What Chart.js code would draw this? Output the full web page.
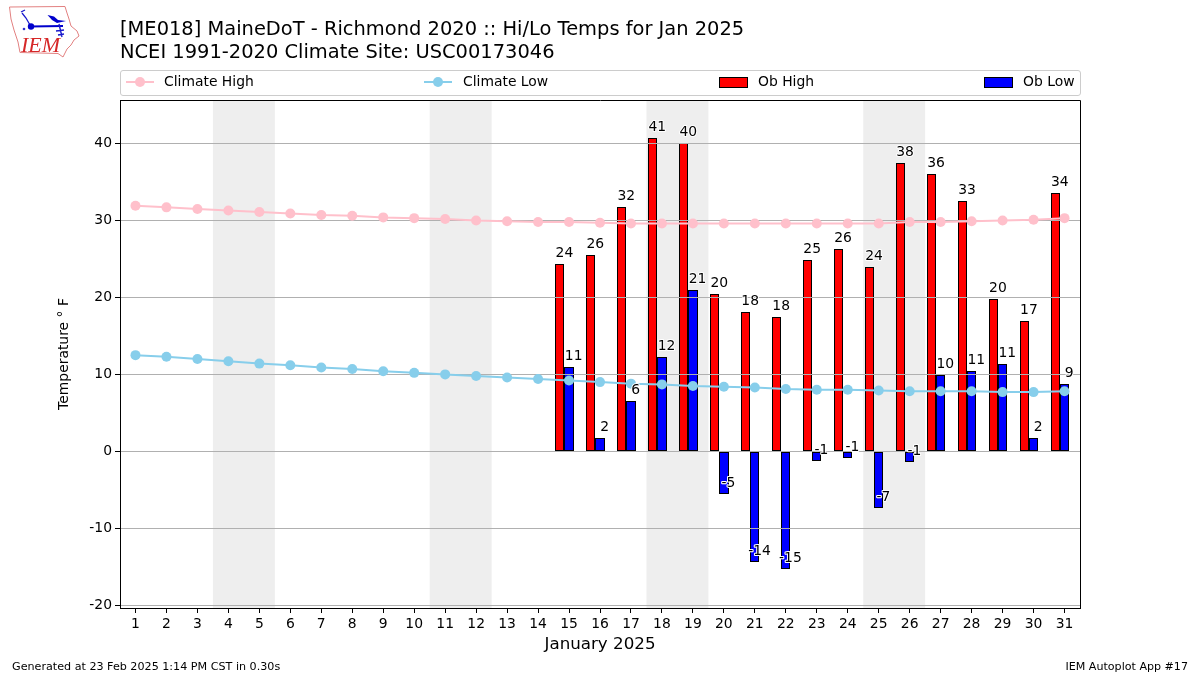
<!DOCTYPE html>
<html>
<head>
<meta charset="utf-8">
<title>Hi/Lo Temps</title>
<script src="https://cdn.jsdelivr.net/npm/chart.js@4"></script>
<style>
html, body { margin: 0; padding: 0; background: #fff; }
body { width: 1200px; height: 675px; position: relative; overflow: hidden; font-family: "DejaVu Sans", sans-serif; color: #000; }
#chart { position: absolute; left: 0; top: 0; }
.txt { position: absolute; white-space: nowrap; }
#title { left: 120px; top: 18px; font-size: 19.45px; line-height: 22.5px; }
#legend { position: absolute; left: 120px; top: 70px; width: 959px; height: 24px; border: 1px solid #ccc; border-radius: 3px; }
.lg { position: absolute; top: 2px; font-size: 13.9px; line-height: 17px; white-space: nowrap; }
.ln { position: absolute; height: 2px; width: 28px; top: 10px; }
.dot { position: absolute; width: 10px; height: 10px; border-radius: 50%; top: 6px; }
.patch { position: absolute; width: 27px; height: 9px; top: 6px; border: 1px solid #000; box-sizing: content-box; }
#foot1 { left: 12px; top: 660px; font-size: 11.15px; }
#foot2 { right: 12px; top: 660px; font-size: 11.1px; }
#logo { position: absolute; left: 0; top: 0; }
</style>
</head>
<body>
<canvas id="chart" width="1200" height="675"></canvas>
<svg id="logo" width="90" height="64">
  <path d="M9.5 7 L65 6.5 L67 13 L69 19 L71 26 L77 31 L79 36 L74 40 L71 45 L67 49 L65 53 L63 57 L58 53.5 L20 52.5 L18 42 L14 30 L11 19 Z" fill="none" stroke="#e28080" stroke-width="1"/>
  <path d="M21 12 L25 10 M22 13 L26 18 L30 25" fill="none" stroke="#1a1acc" stroke-width="1.3"/>
  <path d="M30 26.5 L63 26" stroke="#0000cc" stroke-width="2"/>
  <circle cx="31" cy="26.5" r="3.2" fill="#0000cc"/>
  <circle cx="24" cy="29" r="1.3" fill="#3333cc"/>
  <path d="M47.5 15 L54 16.5 L58 20 L66 21 L57 23 L52 20 Z" fill="#0000cc"/>
  <path d="M59 24 L62 37 M56 31 L64 30 M58 35 L64 34" stroke="#1a1acc" stroke-width="1.4" fill="none"/>
  <text x="21" y="52" font-family="Liberation Serif" font-style="italic" font-size="22" fill="#d62728">IEM</text>
</svg>
<div class="txt" id="title">[ME018] MaineDoT - Richmond 2020 :: Hi/Lo Temps for Jan 2025<br>NCEI 1991-2020 Climate Site: USC00173046</div>
<div id="legend">
  <div class="ln" style="left:5px;background:pink"></div><div class="dot" style="left:14px;background:pink"></div>
  <div class="lg" style="left:43px">Climate High</div>
  <div class="ln" style="left:303px;background:skyblue"></div><div class="dot" style="left:312px;background:skyblue"></div>
  <div class="lg" style="left:342px">Climate Low</div>
  <div class="patch" style="left:598px;background:#f00"></div>
  <div class="lg" style="left:637px">Ob High</div>
  <div class="patch" style="left:863px;background:#00f"></div>
  <div class="lg" style="left:902px">Ob Low</div>
</div>
<div class="txt" id="foot1">Generated at 23 Feb 2025 1:14 PM CST in 0.30s</div>
<div class="txt" id="foot2">IEM Autoplot App #17</div>
<script>
var days = [];
for (var d = 1; d <= 31; d++) days.push(String(d));

var climateHigh = [31.9, 31.7, 31.5, 31.3, 31.1, 30.9, 30.7, 30.6, 30.4, 30.3, 30.2, 30.0, 29.9, 29.8, 29.8, 29.7,
  29.6, 29.6, 29.6, 29.6, 29.6, 29.6, 29.6, 29.6, 29.6, 29.8, 29.8, 29.9, 30.0, 30.1, 30.3];
var climateLow = [12.5, 12.3, 12.0, 11.7, 11.4, 11.2, 10.9, 10.7, 10.4, 10.2, 10.0, 9.8, 9.6, 9.4, 9.2, 9.0,
  8.8, 8.7, 8.5, 8.4, 8.3, 8.1, 8.0, 8.0, 7.9, 7.8, 7.8, 7.8, 7.7, 7.7, 7.8];

var obHigh = [null, null, null, null, null, null, null, null, null, null, null, null, null, null,
  24.4, 25.5, 31.8, 40.7, 40.0, 20.5, 18.1, 17.5, 24.8, 26.3, 24.0, 37.5, 36.0, 32.5, 19.8, 16.9, 33.6];
var obLow = [null, null, null, null, null, null, null, null, null, null, null, null, null, null,
  10.9, 1.8, 6.5, 12.2, 21.0, -5.5, -14.4, -15.3, -1.2, -0.9, -7.3, -1.4, 9.9, 10.5, 11.4, 1.8, 8.8];

// printed labels, these are not always the rounded bar height
var obHighLabels = [null, null, null, null, null, null, null, null, null, null, null, null, null, null,
  24, 26, 32, 41, 40, 20, 18, 18, 25, 26, 24, 38, 36, 33, 20, 17, 34];
var obLowLabels = [null, null, null, null, null, null, null, null, null, null, null, null, null, null,
  11, 2, 6, 12, 21, -5, -14, -15, -1, -1, -7, -1, 10, 11, 11, 2, 9];

var weekends = [[4, 5], [11, 12], [18, 19], [25, 26]];
var yTicks = [-20, -10, 0, 10, 20, 30, 40];

var font = 'DejaVu Sans';

var decorPlugin = {
  id: 'decor',
  // snap the bars to whole pixels so the black outline stays crisp
  afterDatasetsUpdate: function (chart) {
    [2, 3].forEach(function (i) {
      chart.getDatasetMeta(i).data.forEach(function (el) {
        var l = Math.round(el.x - el.width / 2), r = Math.round(el.x + el.width / 2);
        el.x = (l + r) / 2;
        el.width = r - l;
        el.y = Math.round(el.y);
        el.base = Math.round(el.base);
      });
    });
  },
  beforeDatasetsDraw: function (chart) {
    var ctx = chart.ctx, a = chart.chartArea, x = chart.scales.x;
    var step = x.getPixelForValue(1) - x.getPixelForValue(0);
    ctx.save();
    ctx.fillStyle = '#eeeeee';
    weekends.forEach(function (w) {
      var x0 = x.getPixelForValue(w[0] - 1) - step / 2;
      var x1 = x.getPixelForValue(w[1] - 1) + step / 2;
      ctx.fillRect(x0, a.top, x1 - x0, a.bottom - a.top);
    });
    ctx.restore();
  },
  // grid goes over the bars but under the climate lines
  beforeDatasetDraw: function (chart, args) {
    if (args.index !== 0) return;
    var ctx = chart.ctx, a = chart.chartArea, y = chart.scales.y;
    ctx.save();
    ctx.strokeStyle = '#b0b0b0';
    ctx.lineWidth = 1;
    yTicks.forEach(function (t) {
      var py = Math.round(y.getPixelForValue(t)) + 0.5;
      ctx.beginPath();
      ctx.moveTo(a.left, py);
      ctx.lineTo(a.right, py);
      ctx.stroke();
    });
    ctx.restore();
  },
  afterDatasetsDraw: function (chart) {
    var ctx = chart.ctx, a = chart.chartArea, x = chart.scales.x, y = chart.scales.y;
    var step = x.getPixelForValue(1) - x.getPixelForValue(0);
    ctx.save();
    ctx.font = '13.9px "' + font + '"';
    ctx.textAlign = 'center';
    ctx.textBaseline = 'alphabetic';
    ctx.lineJoin = 'round';
    function label(txt, px, py) {
      ctx.strokeStyle = '#fff';
      ctx.lineWidth = 2;
      ctx.strokeText(txt, px, py);
      ctx.fillStyle = '#000';
      ctx.fillText(txt, px, py);
    }
    days.forEach(function (d, i) {
      var px = x.getPixelForValue(i);
      if (obHighLabels[i] !== null) label(String(obHighLabels[i]), px - 0.15 * step, y.getPixelForValue(obHigh[i]) - 7);
      if (obLowLabels[i] !== null) label(String(obLowLabels[i]), px + 0.15 * step, y.getPixelForValue(obLow[i]) - 7);
    });
    ctx.strokeStyle = '#000';
    ctx.lineWidth = 1;
    ctx.strokeRect(a.left + 0.5, a.top + 0.5, a.right - a.left, a.bottom - a.top);
    ctx.restore();
  }
};

new Chart(document.getElementById('chart'), {
  data: {
    labels: days,
    datasets: [
      { type: 'line', label: 'Climate High', data: climateHigh, borderColor: 'pink', backgroundColor: 'pink',
        borderWidth: 2, pointRadius: 5, pointBorderWidth: 0, order: 1 },
      { type: 'line', label: 'Climate Low', data: climateLow, borderColor: 'skyblue', backgroundColor: 'skyblue',
        borderWidth: 2, pointRadius: 5, pointBorderWidth: 0, order: 0 },
      { type: 'bar', label: 'Ob High', data: obHigh, backgroundColor: '#ff0000', borderColor: '#000', borderWidth: 1, borderSkipped: false, inflateAmount: 0, order: 2 },
      { type: 'bar', label: 'Ob Low', data: obLow, backgroundColor: '#0000ff', borderColor: '#000', borderWidth: 1, borderSkipped: false, inflateAmount: 0, order: 3 },
      // empty third slot, keeps the blue bar centred on the tick like the original
      { type: 'bar', label: '', data: [], order: 4 }
    ]
  },
  options: {
    responsive: false,
    animation: false,
    devicePixelRatio: 1,
    categoryPercentage: 0.9,
    barPercentage: 1,
    layout: { padding: { left: 56, right: 120, top: 100, bottom: 20 } },
    plugins: { legend: { display: false }, title: { display: false }, tooltip: { enabled: false } },
    scales: {
      x: {
        grid: { display: true, offset: false, drawOnChartArea: false, tickColor: '#000', tickLength: 5 },
        border: { color: '#000' },
        ticks: { color: '#000', font: { family: font, size: 13.9 }, maxRotation: 0, autoSkip: false, padding: 3 },
        title: { display: true, text: 'January 2025', color: '#000', font: { family: font, size: 16.7 }, padding: { top: 3, bottom: 0 } },
        afterFit: function (s) { s.height = 47; }
      },
      y: {
        min: -20.35,
        max: 45.65,
        afterBuildTicks: function (s) { s.ticks = yTicks.map(function (v) { return { value: v }; }); },
        grid: { display: true, drawOnChartArea: false, tickColor: '#000', tickLength: 5 },
        border: { color: '#000' },
        ticks: { color: '#000', font: { family: font, size: 13.9 }, padding: 3 },
        title: { display: true, text: 'Temperature ° F', color: '#000', font: { family: font, size: 13.9 }, padding: { top: 0, bottom: 0 } },
        afterFit: function (s) { s.width = 64; }
      }
    }
  },
  plugins: [decorPlugin]
});
</script>
</body>
</html>
